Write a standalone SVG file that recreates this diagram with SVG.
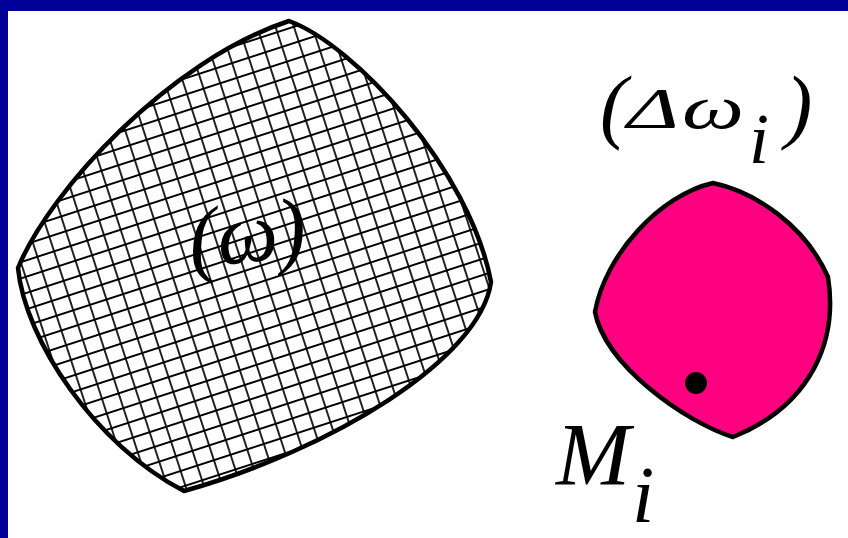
<svg xmlns="http://www.w3.org/2000/svg" width="848" height="538" viewBox="0 0 848 538">
<style>
.outline{stroke:#000;stroke-width:4.5;stroke-linejoin:round}
.math{font-family:'Liberation Serif','Times New Roman','DejaVu Serif',serif;font-style:italic;font-weight:normal;fill:#000}
.frame{fill:#000099}
</style>
<defs>
<pattern id="grid" patternUnits="userSpaceOnUse" width="17.5" height="15.5" patternTransform="rotate(-18)">
<rect width="17.5" height="15.5" fill="#fff"/>
<path d="M0 7.75H17.5M8.75 0V15.5" stroke="#000" stroke-width="1.7" fill="none"/>
</pattern>
</defs>
<rect x="0" y="0" width="848" height="538" fill="#fff"/>
<g id="frame">
<rect class="frame" x="0" y="0" width="848" height="11"/>
<rect class="frame" x="0" y="0" width="8" height="538"/>
</g>
<g id="region-omega">
<path class="outline" fill="url(#grid)" d="M289,21 C355,45 470,170 491,282 C480,360 330,450 184,491 C95,445 25,340 18,268 C50,190 170,60 289,21 Z"/>
<text class="math" x="188" y="262" font-size="86" transform="rotate(-6 246 234)">(ω)</text>
</g>
<g id="region-delta">
<path class="outline" fill="#FF0080" d="M713,183 C755,192 805,225 828,277 C838,340 812,405 733,437 C685,422 605,365 595,312 C605,255 660,195 713,183 Z"/>
<circle cx="696" cy="383" r="11" fill="#000"/>
</g>
<g id="label-delta">
<text class="math"><tspan x="600" y="133" font-size="82">(</tspan><tspan x="627" y="128" font-size="58" textLength="52" lengthAdjust="spacingAndGlyphs">Δ</tspan><tspan x="682" y="128" font-size="62" textLength="62" lengthAdjust="spacingAndGlyphs">ω</tspan><tspan x="749" y="163" font-size="72">i</tspan><tspan x="785" y="133" font-size="82">)</tspan></text>
</g>
<g id="label-point">
<text class="math"><tspan x="556" y="484" font-size="89">M</tspan><tspan x="632" y="522" font-size="80">i</tspan></text>
</g>
</svg>
